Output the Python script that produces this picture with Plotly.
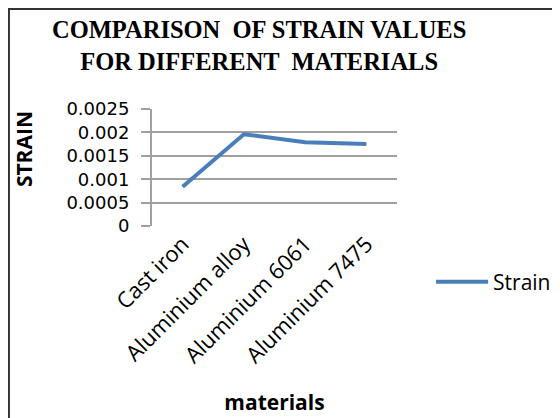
import plotly.graph_objects as go

# Strain per material
materials = ['Cast iron', 'Aluminium alloy', 'Aluminium 6061', 'Aluminium 7475']
strain = [0.00084, 0.00196, 0.00179, 0.00175]

y_ticks = [0, 0.0005, 0.001, 0.0015, 0.002, 0.0025]
y_labels = ['0', '0.0005', '0.001', '0.0015', '0.002', '0.0025']

fig = go.Figure()
fig.add_trace(go.Scatter(
    x=materials,
    y=strain,
    mode='lines',
    name='Strain',
    line=dict(color='#4a7ebb', width=4)
))

grid_col = '#a0a0a0'
# page body adds an 8px margin, so the figure is a bit smaller than the window
fig.update_layout(
    width=552, height=410,
    margin=dict(l=144, r=163, t=101, b=192, autoexpand=False),
    paper_bgcolor='white', plot_bgcolor='white',
    font=dict(family='Open Sans, sans-serif', color='black', size=20),
    showlegend=True,
    legend=dict(x=1.139, y=-0.479, xanchor='left', yanchor='middle',
                font=dict(size=21), bgcolor='rgba(0,0,0,0)', itemwidth=52),
)

fig.update_xaxes(
    type='category', range=[-0.5, 3.5],
    tickangle=-45, showgrid=False, showline=False, zeroline=False,
    ticks='', tickfont=dict(size=22),
    title=dict(text='<b>materials</b>', font=dict(size=21), standoff=27)
)
fig.update_yaxes(
    range=[0, 0.0025], tickvals=y_ticks, ticktext=y_labels,
    showgrid=True, gridcolor=grid_col, gridwidth=2,
    showline=True, linecolor=grid_col, linewidth=2,
    ticks='outside', ticklen=9, tickcolor=grid_col, tickwidth=2,
    ticklabelstandoff=8,
    zeroline=False, tickfont=dict(family='DejaVu Sans, sans-serif', size=18)
)

# chart title
fig.add_annotation(
    text='<b>COMPARISON  OF STRAIN VALUES<br>FOR DIFFERENT  MATERIALS</b>',
    xref='paper', yref='paper', x=0.435, y=1.543,
    xanchor='center', yanchor='middle', showarrow=False,
    font=dict(family='Liberation Serif, Times New Roman, serif', size=24.5, color='black')
)

# y axis title placed as in the original (above the plot centre)
fig.add_annotation(
    text='<b>STRAIN</b>', textangle=-90,
    xref='paper', yref='paper', x=-0.522, y=0.658,
    xanchor='center', yanchor='middle',
    showarrow=False, font=dict(size=21)
)

# outer frame (left and top edges only visible)
fig.add_shape(type='line', xref='paper', yref='paper',
              x0=-0.588, x1=1.67, y0=1.863, y1=1.863,
              line=dict(color='#333333', width=4))
fig.add_shape(type='line', xref='paper', yref='paper',
              x0=-0.588, x1=-0.588, y0=1.863, y1=-1.7,
              line=dict(color='#333333', width=4))

fig.write_html('out.html')
